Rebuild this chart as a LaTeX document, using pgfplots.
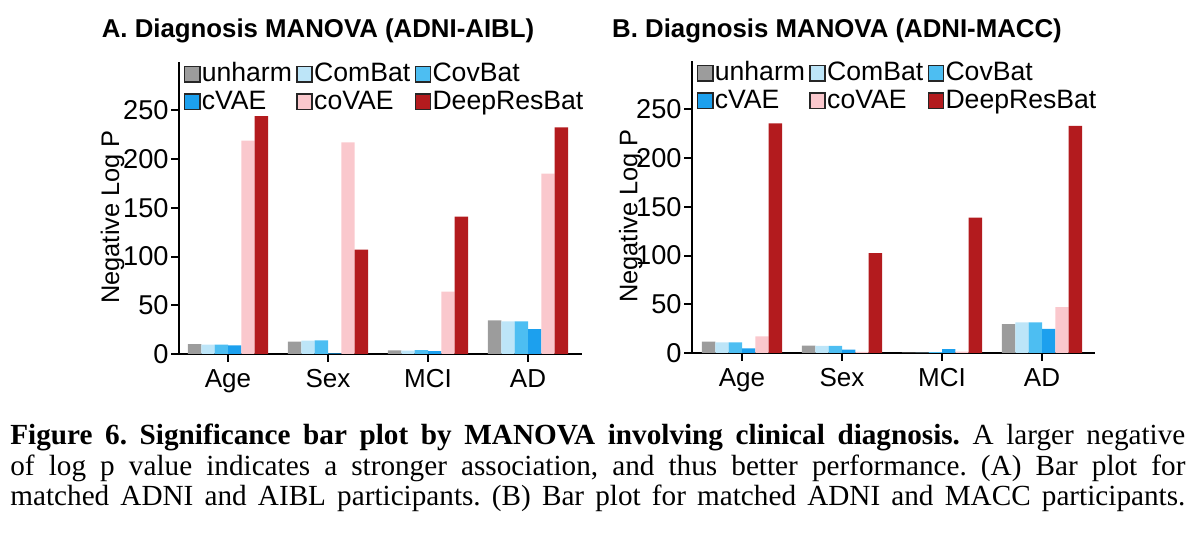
\documentclass[border=0pt]{standalone}
\usepackage{pgfplots}
\pgfplotsset{compat=1.18}
\usepackage{pgfplotstable}
\usepackage{fontspec}
\setmainfont{Liberation Serif}
\newfontfamily\arial{Liberation Sans}
\definecolor{unharmC}{HTML}{9C9C9C}
\definecolor{combatC}{HTML}{BDE5F8}
\definecolor{covbatC}{HTML}{4DBEF2}
\definecolor{cvaeC}{HTML}{1CA0EE}
\definecolor{covaeC}{HTML}{FAC8CD}
\definecolor{deepC}{HTML}{B31B1E}

\pgfplotstableread{
x unharm ComBat CovBat cVAE coVAE DRB
0 10.2 9.6 9.6 8.9 219 244
1 12.6 13.7 14.0 0.6 217 107
2 3.8 3.4 4.1 3.0 64 141
3 34.5 33.5 33.5 25.6 185 232.5
}\tabA
\pgfplotstableread{
x unharm ComBat CovBat cVAE coVAE DRB
0 11.6 11.0 11.0 4.8 17 235.5
1 7.5 7.2 7.2 3.4 1.2 102.5
2 0.5 0.5 0.8 4.0 1.5 139
3 29.5 31.5 31.5 24.7 47 233
}\tabB

\newcommand{\chartfont}{\arial\fontsize{12.7bp}{14bp}\selectfont}
\newcommand{\yfont}{\arial\fontsize{13.6bp}{14bp}\selectfont}
\newcommand{\xfont}{\arial\fontsize{13bp}{14bp}\selectfont}
\newcommand{\legfont}{\arial\fontsize{13.3bp}{14bp}\selectfont}

\pgfplotsset{
  panel/.style={
    scale only axis,
    width=201.5bp, height=146.2bp,
    ymin=0, ymax=300,
    ybar=0pt, bar width=6.67bp,
    enlargelimits=false,
    axis x line*=bottom, axis y line*=left,
    axis line style={-, line width=1bp, black},
    every tick/.style={black, line width=1bp},
    tick align=outside,
    major tick length=4bp,
    xtick=data,
    xticklabels={Age,Sex,MCI,AD},
    ytick={0,50,100,150,200,250},
    /pgf/number format/assume math mode=true,
    yticklabel style={font=\yfont, inner sep=1bp},
    xticklabel style={font=\xfont, inner sep=1bp, yshift=-2.5bp},
    ylabel={Negative Log P},
    label style={font=\chartfont},
    legend columns=3,
    legend cell align=left,
    legend style={draw=none, fill=none, inner sep=0pt, outer sep=0pt,
      font=\legfont,
      nodes={inner sep=0.6bp, text height=9.4bp, text depth=3.2bp},
      /tikz/every even column/.append style={column sep=1.5bp},
      at={(axis description cs:0.012,1.0)}, anchor=north west},
    legend image code/.code={\draw[##1, draw=black!85, line width=0.8bp] (0bp,-3.2bp) rectangle (7.6bp,4.4bp);},
  },
}

\begin{document}
\frenchspacing
\begin{tikzpicture}
\path[use as bounding box] (0,0) rectangle (600bp,269.5bp);

\node[anchor=base, font=\arial\bfseries\fontsize{12.9bp}{14bp}\selectfont] at (159bp,250.5bp) {A. Diagnosis MANOVA (ADNI-AIBL)};
\node[anchor=base, font=\arial\bfseries\fontsize{12.9bp}{14bp}\selectfont] at (418.5bp,250.5bp) {B. Diagnosis MANOVA (ADNI-MACC)};

\begin{axis}[panel, at={(89.5bp,92.5bp)}, anchor=south west,
  xmin=-0.49, xmax=3.54,
  ylabel style={at={(axis description cs:-0.165,0.469)}, anchor=center}]
\addplot[fill=unharmC, draw=none] table[x=x, y=unharm] {\tabA};
\addplot[fill=combatC, draw=none] table[x=x, y=ComBat] {\tabA};
\addplot[fill=covbatC, draw=none] table[x=x, y=CovBat] {\tabA};
\addplot[fill=cvaeC, draw=none] table[x=x, y=cVAE] {\tabA};
\addplot[fill=covaeC, draw=none] table[x=x, y=coVAE] {\tabA};
\addplot[fill=deepC, draw=none] table[x=x, y=DRB] {\tabA};
\legend{unharm,ComBat,CovBat,cVAE,coVAE,DeepResBat}
\end{axis}

\begin{axis}[panel, at={(346bp,93bp)}, anchor=south west,
  xmin=-0.5, xmax=3.53,
  ylabel style={at={(axis description cs:-0.152,0.469)}, anchor=center}]
\addplot[fill=unharmC, draw=none] table[x=x, y=unharm] {\tabB};
\addplot[fill=combatC, draw=none] table[x=x, y=ComBat] {\tabB};
\addplot[fill=covbatC, draw=none] table[x=x, y=CovBat] {\tabB};
\addplot[fill=cvaeC, draw=none] table[x=x, y=cVAE] {\tabB};
\addplot[fill=covaeC, draw=none] table[x=x, y=coVAE] {\tabB};
\addplot[fill=deepC, draw=none] table[x=x, y=DRB] {\tabB};
\legend{unharm,ComBat,CovBat,cVAE,coVAE,DeepResBat}
\end{axis}

\begin{scope}[every node/.style={anchor=base west, inner sep=0pt, font=\fontsize{14.6bp}{15bp}\selectfont}]
\node at (5bp,47bp) {\makebox[587.5bp][s]{\textbf{Figure 6. Significance bar plot by MANOVA involving clinical diagnosis.} A larger negative}};
\node at (5bp,32bp) {\makebox[587.5bp][s]{of log p value indicates a stronger association, and thus better performance. (A) Bar plot for}};
\node at (5bp,17bp) {\makebox[587.5bp][s]{matched ADNI and AIBL participants. (B) Bar plot for matched ADNI and MACC participants.}};
\end{scope}
\end{tikzpicture}
\end{document}
